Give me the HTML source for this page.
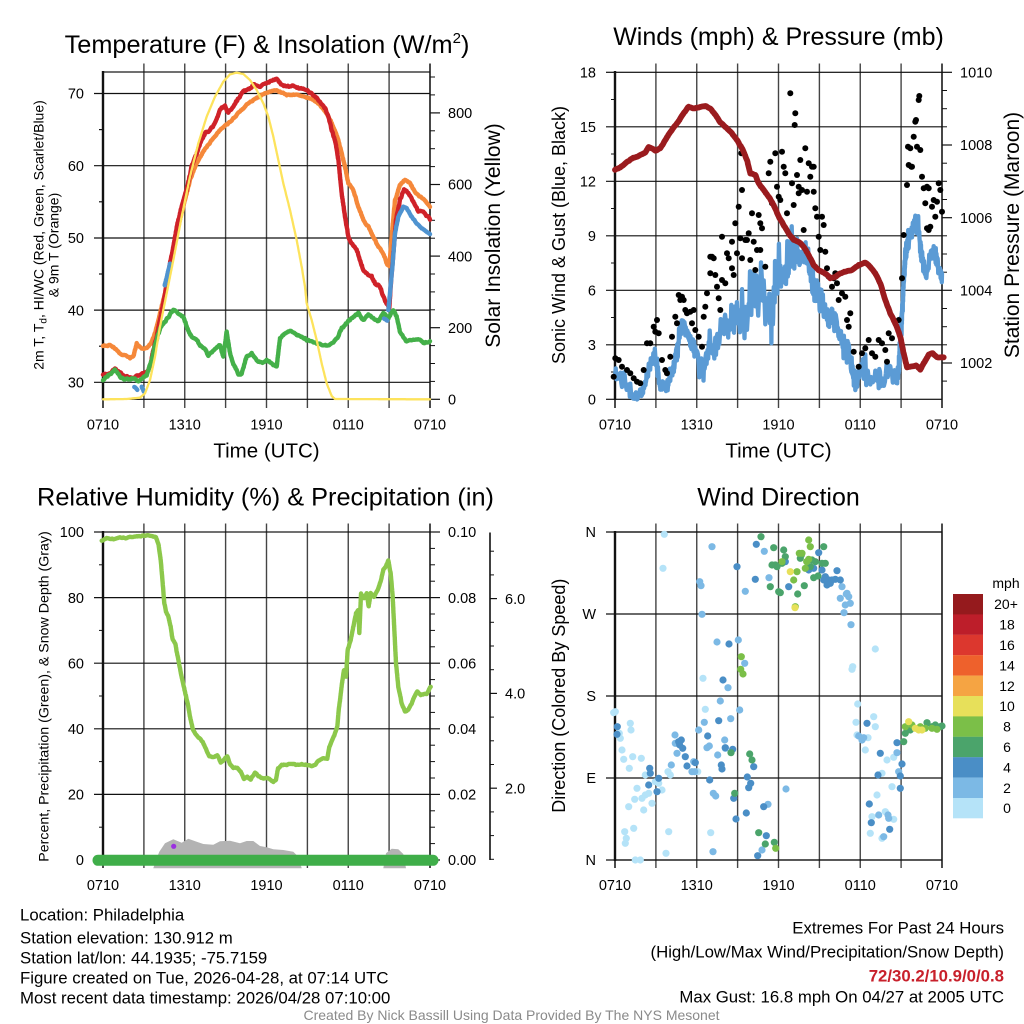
<!DOCTYPE html>
<html><head><meta charset="utf-8"><style>html,body{margin:0;padding:0;background:#fff;overflow:hidden}svg{display:block}</style></head>
<body>
<svg id="s" width="1024" height="1024" viewBox="0 0 1024 1024" xmlns="http://www.w3.org/2000/svg" font-family="'Liberation Sans', Arial, sans-serif">
<rect width="1024" height="1024" fill="#fff"/>
<defs>
<g id="vg" stroke="#444" stroke-width="1.4">
<line x1="143.9" y1="63.5" x2="143.9" y2="408"/><line x1="184.75" y1="63.5" x2="184.75" y2="408"/>
<line x1="225.6" y1="63.5" x2="225.6" y2="408"/><line x1="266.5" y1="63.5" x2="266.5" y2="408"/>
<line x1="307.4" y1="63.5" x2="307.4" y2="408"/><line x1="348.25" y1="63.5" x2="348.25" y2="408"/>
<line x1="389.1" y1="63.5" x2="389.1" y2="408"/>
<line x1="430" y1="63.5" x2="430" y2="408" stroke="#000"/>
<line x1="103" y1="399" x2="103" y2="408" stroke="#000"/>
</g>
</defs>
<use href="#vg"/><use href="#vg" transform="translate(512,0)"/>
<use href="#vg" transform="translate(0,460)"/><use href="#vg" transform="translate(512,460)"/>

<g stroke="#111" stroke-width="1.2">
<line x1="94" y1="93.5" x2="430" y2="93.5"/><line x1="94" y1="165.7" x2="430" y2="165.7"/>
<line x1="94" y1="238" x2="430" y2="238"/><line x1="94" y1="310.1" x2="430" y2="310.1"/>
<line x1="94" y1="382.3" x2="430" y2="382.3"/>
<line x1="99" y1="129.6" x2="103" y2="129.6"/><line x1="99" y1="201.8" x2="103" y2="201.8"/>
<line x1="99" y1="274" x2="103" y2="274"/><line x1="99" y1="346.2" x2="103" y2="346.2"/>
<line x1="430" y1="112.9" x2="440" y2="112.9"/><line x1="430" y1="184.5" x2="440" y2="184.5"/>
<line x1="430" y1="256.1" x2="440" y2="256.1"/><line x1="430" y1="327.7" x2="440" y2="327.7"/>
<line x1="430" y1="399.3" x2="440" y2="399.3"/>
<g stroke-width="1"><line x1="430" y1="381.4" x2="435" y2="381.4"/><line x1="430" y1="363.5" x2="435" y2="363.5"/><line x1="430" y1="345.6" x2="435" y2="345.6"/><line x1="430" y1="309.8" x2="435" y2="309.8"/><line x1="430" y1="291.9" x2="435" y2="291.9"/><line x1="430" y1="274" x2="435" y2="274"/><line x1="430" y1="238.2" x2="435" y2="238.2"/><line x1="430" y1="220.3" x2="435" y2="220.3"/><line x1="430" y1="202.4" x2="435" y2="202.4"/><line x1="430" y1="166.6" x2="435" y2="166.6"/><line x1="430" y1="148.7" x2="435" y2="148.7"/><line x1="430" y1="130.8" x2="435" y2="130.8"/><line x1="430" y1="94.9" x2="435" y2="94.9"/><line x1="430" y1="77" x2="435" y2="77"/></g>
<rect x="103" y="72" width="327" height="327.3" fill="none"/>
<line x1="103" y1="71" x2="103" y2="400" stroke-width="2.4"/>
</g>

<g stroke="#111" stroke-width="1.2">
<line x1="606" y1="72.3" x2="615" y2="72.3"/>
<line x1="606" y1="126.8" x2="942" y2="126.8"/><line x1="606" y1="181.3" x2="942" y2="181.3"/>
<line x1="606" y1="235.8" x2="942" y2="235.8"/><line x1="606" y1="290.3" x2="942" y2="290.3"/>
<line x1="606" y1="344.8" x2="942" y2="344.8"/><line x1="606" y1="399.3" x2="615" y2="399.3"/>
<g stroke-width="1"><line x1="611" y1="99.5" x2="615" y2="99.5"/><line x1="611" y1="154" x2="615" y2="154"/><line x1="611" y1="208.5" x2="615" y2="208.5"/><line x1="611" y1="263" x2="615" y2="263"/><line x1="611" y1="317.5" x2="615" y2="317.5"/><line x1="611" y1="372" x2="615" y2="372"/></g>
<line x1="942" y1="72.3" x2="952" y2="72.3"/><line x1="942" y1="145" x2="952" y2="145"/>
<line x1="942" y1="217.7" x2="952" y2="217.7"/><line x1="942" y1="290.3" x2="952" y2="290.3"/>
<line x1="942" y1="363" x2="952" y2="363"/>
<g stroke-width="1"><line x1="942" y1="381.1" x2="947" y2="381.1"/><line x1="942" y1="344.8" x2="947" y2="344.8"/><line x1="942" y1="326.7" x2="947" y2="326.7"/><line x1="942" y1="308.5" x2="947" y2="308.5"/><line x1="942" y1="272.2" x2="947" y2="272.2"/><line x1="942" y1="254" x2="947" y2="254"/><line x1="942" y1="235.8" x2="947" y2="235.8"/><line x1="942" y1="199.5" x2="947" y2="199.5"/><line x1="942" y1="181.3" x2="947" y2="181.3"/><line x1="942" y1="163.2" x2="947" y2="163.2"/><line x1="942" y1="126.8" x2="947" y2="126.8"/><line x1="942" y1="108.7" x2="947" y2="108.7"/><line x1="942" y1="90.5" x2="947" y2="90.5"/></g>
<rect x="615" y="72.3" width="327" height="327" fill="none"/>
<line x1="615" y1="71" x2="615" y2="400" stroke-width="2.4"/>
</g>

<g stroke="#111" stroke-width="1.2">
<line x1="94" y1="532" x2="103" y2="532"/>
<line x1="94" y1="597.6" x2="430" y2="597.6"/><line x1="94" y1="663.2" x2="430" y2="663.2"/>
<line x1="94" y1="728.8" x2="430" y2="728.8"/><line x1="94" y1="794.4" x2="430" y2="794.4"/>
<line x1="94" y1="860" x2="103" y2="860"/>
<g stroke-width="1"><line x1="99" y1="564.8" x2="103" y2="564.8"/><line x1="99" y1="630.4" x2="103" y2="630.4"/><line x1="99" y1="696" x2="103" y2="696"/><line x1="99" y1="761.6" x2="103" y2="761.6"/><line x1="99" y1="827.2" x2="103" y2="827.2"/></g>
<line x1="430" y1="532" x2="440" y2="532"/><line x1="430" y1="597.6" x2="440" y2="597.6"/>
<line x1="430" y1="663.2" x2="440" y2="663.2"/><line x1="430" y1="728.8" x2="440" y2="728.8"/>
<line x1="430" y1="794.4" x2="440" y2="794.4"/><line x1="430" y1="860" x2="440" y2="860"/>
<g stroke-width="1"><line x1="430" y1="548.4" x2="435" y2="548.4"/><line x1="430" y1="564.8" x2="435" y2="564.8"/><line x1="430" y1="581.2" x2="435" y2="581.2"/><line x1="430" y1="614" x2="435" y2="614"/><line x1="430" y1="630.4" x2="435" y2="630.4"/><line x1="430" y1="646.8" x2="435" y2="646.8"/><line x1="430" y1="679.6" x2="435" y2="679.6"/><line x1="430" y1="696" x2="435" y2="696"/><line x1="430" y1="712.4" x2="435" y2="712.4"/><line x1="430" y1="745.2" x2="435" y2="745.2"/><line x1="430" y1="761.6" x2="435" y2="761.6"/><line x1="430" y1="778" x2="435" y2="778"/><line x1="430" y1="810.8" x2="435" y2="810.8"/><line x1="430" y1="827.2" x2="435" y2="827.2"/><line x1="430" y1="843.6" x2="435" y2="843.6"/></g>
<rect x="103" y="532" width="327" height="328" fill="none"/>
<line x1="103" y1="531" x2="103" y2="861" stroke-width="2.4"/>
<line x1="490" y1="532.5" x2="490" y2="860" stroke-width="1.6"/>
<line x1="490" y1="598.6" x2="497" y2="598.6"/><line x1="490" y1="693.4" x2="497" y2="693.4"/><line x1="490" y1="788.2" x2="497" y2="788.2"/>
<g stroke-width="1"><line x1="490" y1="551.2" x2="494" y2="551.2"/><line x1="490" y1="574.9" x2="494" y2="574.9"/><line x1="490" y1="622.3" x2="494" y2="622.3"/><line x1="490" y1="646" x2="494" y2="646"/><line x1="490" y1="669.7" x2="494" y2="669.7"/><line x1="490" y1="717.1" x2="494" y2="717.1"/><line x1="490" y1="740.8" x2="494" y2="740.8"/><line x1="490" y1="764.5" x2="494" y2="764.5"/><line x1="490" y1="811.9" x2="494" y2="811.9"/><line x1="490" y1="835.6" x2="494" y2="835.6"/><line x1="490" y1="859.3" x2="494" y2="859.3"/></g>
</g>

<g stroke="#111" stroke-width="1.2">
<line x1="606" y1="532" x2="942" y2="532"/>
<line x1="606" y1="614" x2="942" y2="614"/><line x1="606" y1="696" x2="942" y2="696"/>
<line x1="606" y1="778" x2="942" y2="778"/><line x1="606" y1="860" x2="942" y2="860"/>
<rect x="615" y="532" width="327" height="328" fill="none"/>
<line x1="615" y1="531" x2="615" y2="861" stroke-width="2.4"/>
</g>

<g id="tl"></g><g id="tr"></g><g id="bl"></g><g id="br"></g>

<g fill="#000">
<text x="267" y="53" font-size="25.3" text-anchor="middle">Temperature (F) &amp; Insolation (W/m<tspan font-size="15" dy="-10">2</tspan><tspan dy="10">)</tspan></text>
<text x="778.5" y="45" font-size="25" text-anchor="middle">Winds (mph) &amp; Pressure (mb)</text>
<text x="265.5" y="505.5" font-size="25.3" text-anchor="middle">Relative Humidity (%) &amp; Precipitation (in)</text>
<text x="778.5" y="505.5" font-size="25" text-anchor="middle">Wind Direction</text>

<g font-size="14.5" text-anchor="middle">
<text x="103" y="429.5">0710</text><text x="184.75" y="429.5">1310</text><text x="266.5" y="429.5">1910</text><text x="348.25" y="429.5">0110</text><text x="430" y="429.5">0710</text>
<text x="615" y="429.5">0710</text><text x="696.75" y="429.5">1310</text><text x="778.5" y="429.5">1910</text><text x="860.25" y="429.5">0110</text><text x="942" y="429.5">0710</text>
<text x="103" y="890">0710</text><text x="184.75" y="890">1310</text><text x="266.5" y="890">1910</text><text x="348.25" y="890">0110</text><text x="430" y="890">0710</text>
<text x="615" y="890">0710</text><text x="696.75" y="890">1310</text><text x="778.5" y="890">1910</text><text x="860.25" y="890">0110</text><text x="942" y="890">0710</text>
</g>
<g font-size="14.5" text-anchor="end">
<text x="84" y="98.7">70</text><text x="84" y="170.9">60</text><text x="84" y="243.2">50</text><text x="84" y="315.3">40</text><text x="84" y="387.5">30</text>
<text x="596" y="77.5">18</text><text x="596" y="132">15</text><text x="596" y="186.5">12</text><text x="596" y="241">9</text><text x="596" y="295.5">6</text><text x="596" y="350">3</text><text x="596" y="404.5">0</text>
<text x="84" y="537.2">100</text><text x="84" y="602.8">80</text><text x="84" y="668.4">60</text><text x="84" y="734">40</text><text x="84" y="799.6">20</text><text x="84" y="865.2">0</text>
<text x="596" y="537.2">N</text><text x="596" y="619.2">W</text><text x="596" y="701.2">S</text><text x="596" y="783.2">E</text><text x="596" y="865.2">N</text>
</g>
<g font-size="14.5">
<text x="448" y="118.1">800</text><text x="448" y="189.7">600</text><text x="448" y="261.3">400</text><text x="448" y="332.9">200</text><text x="448" y="404.5">0</text>
<text x="960" y="77.5">1010</text><text x="960" y="150.2">1008</text><text x="960" y="222.9">1006</text><text x="960" y="295.5">1004</text><text x="960" y="368.2">1002</text>
<text x="448" y="537.2">0.10</text><text x="448" y="602.8">0.08</text><text x="448" y="668.4">0.06</text><text x="448" y="734">0.04</text><text x="448" y="799.6">0.02</text><text x="448" y="865.2">0.00</text>
<text x="505" y="603.8">6.0</text><text x="505" y="698.6">4.0</text><text x="505" y="793.4">2.0</text>
</g>
<text x="266.5" y="457.7" font-size="20.5" text-anchor="middle">Time (UTC)</text>
<text x="778.5" y="457.7" font-size="20.5" text-anchor="middle">Time (UTC)</text>

<text transform="translate(43.5,235) rotate(-90)" font-size="14" text-anchor="middle">2m T, T<tspan font-size="10" dy="3">d</tspan><tspan dy="-3">, HI/WC (Red, Green, Scarlet/Blue)</tspan></text>
<text transform="translate(58.5,245) rotate(-90)" font-size="14" text-anchor="middle">&amp; 9m T (Orange)</text>
<text transform="translate(500,235.5) rotate(-90)" font-size="21" text-anchor="middle">Solar Insolation (Yellow)</text>
<text transform="translate(565,235) rotate(-90)" font-size="18" text-anchor="middle">Sonic Wind &amp; Gust (Blue, Black)</text>
<text transform="translate(1019,235) rotate(-90)" font-size="21" text-anchor="middle">Station Pressure (Maroon)</text>
<text transform="translate(48.7,696.5) rotate(-90)" font-size="14.2" text-anchor="middle">Percent, Precipitation (Green), &amp; Snow Depth (Gray)</text>
<text transform="translate(565,695.7) rotate(-90)" font-size="18" text-anchor="middle">Direction (Colored By Speed)</text>
</g>

<g>
<rect x="953" y="594" width="30" height="20.5" fill="#951a1d"/>
<rect x="953" y="614.4" width="30" height="20.5" fill="#bd1e2a"/>
<rect x="953" y="634.8" width="30" height="20.5" fill="#dc372e"/>
<rect x="953" y="655.2" width="30" height="20.5" fill="#ee612c"/>
<rect x="953" y="675.6" width="30" height="20.5" fill="#f5a443"/>
<rect x="953" y="696" width="30" height="20.5" fill="#e7e05a"/>
<rect x="953" y="716.4" width="30" height="20.5" fill="#7bbf48"/>
<rect x="953" y="736.8" width="30" height="20.5" fill="#4ba46b"/>
<rect x="953" y="757.2" width="30" height="20.5" fill="#4a8ec6"/>
<rect x="953" y="777.6" width="30" height="20.5" fill="#7cb9e5"/>
<rect x="953" y="798" width="30" height="20.3" fill="#b5e3f8"/>
</g>
<g font-size="14" text-anchor="middle" fill="#000">
<text x="1006" y="588">mph</text>
<text x="1006" y="609.2">20+</text><text x="1007" y="629.6">18</text><text x="1007" y="650">16</text><text x="1007" y="670.4">14</text><text x="1007" y="690.8">12</text><text x="1007" y="711.2">10</text><text x="1007" y="731.6">8</text><text x="1007" y="752">6</text><text x="1007" y="772.4">4</text><text x="1007" y="792.8">2</text><text x="1007" y="813.2">0</text>
</g>

<g font-size="16.8" fill="#000">
<text x="20" y="920.7">Location: Philadelphia</text>
<text x="20" y="943.3">Station elevation: 130.912 m</text>
<text x="20" y="963.3">Station lat/lon: 44.1935; -75.7159</text>
<text x="20" y="983.3">Figure created on Tue, 2026-04-28, at 07:14 UTC</text>
<text x="20" y="1003.3">Most recent data timestamp: 2026/04/28 07:10:00</text>
</g>
<g font-size="16.8" fill="#000" text-anchor="end">
<text x="1004" y="933.3">Extremes For Past 24 Hours</text>
<text x="1004" y="957.3">(High/Low/Max Wind/Precipitation/Snow Depth)</text>
<text x="1004" y="981.7" fill="#c8202b" font-weight="bold">72/30.2/10.9/0/0.8</text>
<text x="1004" y="1002.7">Max Gust: 16.8 mph On 04/27 at 2005 UTC</text>
</g>
<text x="511.5" y="1020" font-size="14" fill="#8a8a8a" text-anchor="middle">Created By Nick Bassill Using Data Provided By The NYS Mesonet</text>
</svg>

<script>
(function(){
const NS='http://www.w3.org/2000/svg';
function el(p,t,a){const e=document.createElementNS(NS,t);for(const k in a)e.setAttribute(k,a[k]);p.appendChild(e);return e;}
let seed=12345;function rnd(){seed=(seed*1664525+1013904223)>>>0;return seed/4294967296;}
function conv(a,ox,oy){return a.map(p=>{const q=p.slice();q[0]=ox+p[0]/3;q[1]=oy+p[1]/3;return q;});}
function dense(a,step){const o=[];for(let i=0;i<a.length-1;i++){const A=a[i],B=a[i+1];const n=Math.max(1,Math.ceil(Math.hypot(B[0]-A[0],B[1]-A[1])/step));for(let k=0;k<n;k++){const t=k/n;o.push(A.map((v,j)=>v+(B[j]-v)*t));}}o.push(a[a.length-1].slice());return o;}
function jit(p,amp){let v=0;return p.map(q=>{v=0.5*v+0.5*(rnd()*2-1)*amp;return [q[0],q[1]+v];});}
function D(p){return 'M'+p.map(q=>q[0].toFixed(1)+' '+q[1].toFixed(1)).join('L');}
function line(g,a,ox,oy,c,w,amp){let p=dense(conv(a,ox,oy),1.2);if(amp)p=jit(p,amp);el(g,'path',{d:D(p),fill:'none',stroke:c,'stroke-width':w,'stroke-linejoin':'round','stroke-linecap':'round'});}
const TL=document.getElementById('tl'),TR=document.getElementById('tr'),BL=document.getElementById('bl'),BR=document.getElementById('br');

const orange=[[309,980],[330,975],[345,985],[360,1000],[375,1005],[390,1015],[400,1010],[410,970],[425,985],[440,985],[455,965],[465,940],[480,880],[495,820],[510,740],[525,660],[540,600],[555,540],[570,480],[585,440],[600,410],[620,380],[640,355],[660,330],[680,315],[700,295],[720,275],[740,255],[760,240],[780,228],[800,218],[820,210],[840,215],[860,225],[880,222],[900,225],[920,232],[940,240],[960,255],[980,280],[1000,320],[1015,360],[1025,400],[1035,440],[1045,490],[1060,510],[1075,560],[1090,600],[1105,620],[1120,650],[1135,680],[1150,700],[1160,730],[1168,740],[1175,650],[1185,540],[1200,495],[1215,478],[1230,490],[1245,515],[1260,530],[1275,540],[1290,560]];
const red=[[309,1065],[330,1062],[345,1045],[360,1058],[375,1070],[400,1075],[420,1062],[440,1055],[450,1040],[460,990],[470,950],[480,900],[490,850],[500,790],[510,730],[520,680],[530,620],[545,560],[560,510],[575,440],[590,400],[600,370],[615,340],[630,330],[645,310],[660,270],[675,255],[685,280],[700,260],[715,235],[730,215],[745,210],[760,195],[775,200],[790,195],[810,185],[830,178],[845,195],[860,200],[880,198],[900,205],[920,212],[940,225],[960,245],[975,265],[985,290],[995,330],[1005,360],[1015,420],[1025,520],[1035,590],[1045,650],[1055,670],[1070,690],[1080,720],[1090,750],[1100,760],[1115,770],[1125,790],[1140,800],[1150,830],[1160,850],[1168,865],[1172,800],[1180,700],[1188,600],[1200,540],[1212,510],[1225,520],[1240,545],[1255,575],[1270,575],[1290,598]];
const green=[[309,1080],[325,1065],[345,1050],[360,1070],[375,1080],[395,1075],[415,1082],[440,1065],[455,1020],[465,975],[480,925],[495,905],[505,890],[520,870],[535,880],[550,890],[560,920],[575,950],[590,960],[600,975],[615,985],[625,1010],[640,990],[660,975],[670,1010],[680,935],[690,1000],[700,1030],[715,1060],[725,1060],[740,1010],[755,1000],[770,1020],[785,1030],[800,1020],[815,1030],[830,1040],[840,955],[855,940],[870,935],[885,940],[900,950],[915,955],[930,965],[950,970],[970,975],[985,978],[1000,968],[1015,950],[1025,925],[1040,910],[1060,890],[1075,880],[1090,900],[1105,885],[1120,895],[1135,905],[1150,880],[1165,895],[1180,870],[1190,890],[1200,935],[1220,965],[1240,960],[1255,958],[1270,968],[1290,965]];
const blues=[[[403,1100],[412,1108]],[[425,1100],[432,1115]],[[494,795],[503,760],[510,730]],[[1152,895],[1162,902]],[[1165,870],[1170,820],[1178,730],[1185,640],[1195,590],[1210,560],[1220,565],[1235,590],[1250,610],[1265,625],[1290,642]]];
const yellow=[[309,1138],[380,1137],[420,1133],[435,1120],[450,1080],[465,1010],[480,920],[500,820],[520,720],[545,590],[570,470],[595,370],[620,290],[645,230],[670,185],[690,163],[710,158],[730,162],[750,180],[770,210],[790,250],[805,290],[820,350],[835,420],[850,490],[870,570],[890,660],[905,740],[915,800],[920,850],[935,900],[950,960],[965,1030],[980,1090],[995,1128],[1005,1137],[1290,1138]];
line(TL,orange,0,20,'#f5883a',4.4,1.3);
line(TL,red,0,20,'#cf2229',4.4,1.6);
line(TL,green,0,20,'#44b049',4.4,1.5);
blues.forEach(b=>line(TL,b,0,20,'#4f93d0',4.4,0.8));
line(TL,yellow,0,20,'#fde35c',2.3,0);

const wb=[[309,1060,40],[330,1080,40],[350,1100,30],[375,1135,10],[390,1120,20],[410,1050,30],[430,1020,30],[445,1080,30],[465,1110,20],[480,1050,30],[500,960,40],[515,920,30],[530,950,30],[550,1010,40],[570,1030,40],[590,1000,50],[610,970,50],[630,950,60],[650,920,70],[670,900,80],[690,870,80],[710,880,80],[730,860,80],[750,860,90],[770,850,90],[790,790,80],[810,760,80],[830,720,70],[850,690,70],[870,700,60],[890,730,60],[910,790,60],[930,850,50],[950,890,50],[970,920,40],[990,950,40],[1010,1000,40],[1030,1060,50],[1050,1060,50],[1070,1070,40],[1090,1080,40],[1110,1060,40],[1130,1060,40],[1150,1070,40],[1160,1040,40],[1170,900,40],[1180,720,40],[1195,640,40],[1210,610,40],[1225,680,40],[1240,740,40],[1255,720,40],[1270,700,40],[1290,780,30]];
let wp=dense(conv(wb,512,20),1.0).map(q=>{const a=q[2]/3;const lf=0.6*Math.sin(q[0]*0.45)+0.4*Math.sin(q[0]*0.17+1.3);const r=rnd();const spike=r<0.12?(rnd()*2-1)*1.3:(rnd()*2-1)*0.6;let y=q[1]+a*(0.55*lf+spike);if(y>399.5)y=399.5;return [q[0],y];});
el(TR,'path',{d:D(wp),fill:'none',stroke:'#5b9bd5','stroke-width':4.3,'stroke-linejoin':'round','stroke-linecap':'round'});
const gust=[[305,1070],[310,1015],[320,1020],[330,1040],[345,1050],[355,1060],[365,1075],[375,1085],[385,1090],[395,1050],[405,970],[415,970],[425,920],[430,935],[440,940],[435,900],[450,1020],[460,1050],[465,1060],[475,1010],[480,950],[490,890],[495,910],[500,825],[510,830],[515,840],[520,870],[525,880],[535,875],[545,870],[540,910],[550,930],[560,950],[570,980],[575,890],[580,860],[585,820],[595,760],[600,710],[605,715],[610,765],[615,800],[620,835],[630,780],[640,790],[625,870],[630,650],[645,700],[650,715],[660,745],[665,765],[660,665],[670,610],[675,700],[685,655],[690,715],[680,560],[688,400],[690,510],[705,660],[710,640],[715,720],[720,580],[725,665],[730,750],[735,690],[740,585],[745,690],[750,625],[760,740],[770,460],[780,550],[775,425],[790,400],[795,500],[800,530],[805,540],[810,395],[815,440],[820,460],[825,580],[835,220],[840,490],[845,555],[850,280],[848,315],[855,465],[860,520],[865,420],[870,510],[875,630],[880,385],[885,515],[890,430],[895,470],[900,440],[905,515],[910,565],[915,590],[920,650],[925,690],[930,590],[935,615],[940,695],[945,745],[950,770],[960,800],[965,775],[970,760],[980,840],[990,820],[1000,830],[1005,900],[1010,920],[1015,880],[1025,995],[1040,1040],[1050,1000],[1060,985],[1070,960],[1080,1000],[1090,1010],[1100,960],[1110,970],[1120,990],[1125,1025],[1130,940],[1140,955],[1150,910],[1160,900],[1170,775],[1175,645],[1185,495],[1190,435],[1195,385],[1200,440],[1205,350],[1210,305],[1215,380],[1220,240],[1225,390],[1230,470],[1235,505],[1240,550],[1245,625],[1250,505],[1255,620],[1260,560],[1265,540],[1270,590],[1275,545],[1280,490],[1285,510],[1290,575],[1222,228],[1198,440],[1250,630],[1212,300],[1188,380],[1245,500],[505,840],[595,710],[700,660],[745,610],[860,500],[905,440],[975,790]];
conv(gust,512,20).forEach(p=>el(TR,'circle',{cx:p[0].toFixed(1),cy:p[1].toFixed(1),r:3.0,fill:'#000'}));
const maroon=[[309,450],[325,443],[345,425],[360,415],[380,408],[400,398],[410,380],[420,385],[430,392],[445,385],[460,360],[475,335],[495,310],[515,280],[530,260],[545,265],[560,262],[580,258],[595,265],[610,285],[625,308],[645,325],[660,340],[675,360],[690,385],[705,420],[715,460],[730,465],[740,490],[755,510],[770,530],[785,555],[800,590],[815,615],[830,640],[845,660],[860,665],[875,680],[890,705],[905,735],[920,750],[940,760],[955,775],[970,770],[985,760],[1000,755],[1020,750],[1040,735],[1060,728],[1075,740],[1090,760],[1105,790],[1120,840],[1135,880],[1150,910],[1165,950],[1175,1000],[1185,1042],[1200,1040],[1212,1035],[1225,1050],[1235,1030],[1250,1005],[1262,1000],[1275,1012],[1295,1012]];
line(TR,maroon,512,20,'#9a1b1e',5.8,0.6);

const snow=[[460,1195],[468,1170],[478,1145],[495,1120],[520,1108],[545,1118],[565,1106],[590,1115],[610,1122],[640,1124],[660,1114],[690,1112],[720,1120],[740,1113],[760,1113],[780,1128],[800,1132],[820,1138],[850,1140],[880,1145],[895,1160],[905,1195]];
el(BL,'path',{d:D(conv(snow,0,470))+'Z',fill:'#b3b3b3'});
const snow2=[[1150,1195],[1158,1150],[1175,1136],[1195,1138],[1210,1152],[1218,1195]];
el(BL,'path',{d:D(conv(snow2,0,470))+'Z',fill:'#b3b3b3'});
const rh=[[305,212],[320,205],[340,207],[360,203],[380,204],[400,200],[420,198],[440,196],[458,197],[468,203],[476,225],[482,270],[488,340],[493,400],[498,425],[505,440],[512,470],[518,510],[526,520],[532,555],[540,595],[548,635],[556,670],[563,700],[570,740],[578,775],[588,795],[598,805],[608,815],[618,838],[628,858],[640,860],[652,855],[662,878],[672,870],[682,858],[690,882],[700,895],[712,893],[722,905],[732,928],[742,920],[752,928],[765,908],[775,918],[790,925],[805,925],[820,935],[828,928],[834,895],[845,885],[860,884],[875,880],[890,885],[905,883],[920,885],[935,888],[945,885],[955,872],[970,865],[982,865],[988,830],[995,815],[1005,790],[1012,770],[1016,720],[1020,690],[1026,640],[1032,600],[1038,620],[1043,540],[1052,510],[1060,470],[1068,430],[1075,420],[1078,490],[1083,370],[1092,385],[1100,370],[1106,410],[1112,370],[1122,380],[1132,360],[1142,335],[1150,300],[1158,290],[1165,272],[1172,310],[1178,380],[1183,480],[1188,580],[1195,650],[1205,700],[1215,725],[1225,718],[1235,700],[1245,675],[1252,665],[1262,675],[1280,672],[1292,650]];
line(BL,rh,0,470,'#8cc84b',4.4,0.9);
el(BL,'line',{x1:98,y1:860.3,x2:433,y2:860.3,stroke:'#3fae49','stroke-width':11,'stroke-linecap':'round'});
el(BL,'circle',{cx:173.7,cy:846.3,r:2.6,fill:'#9b30e0'});

const cols=['#b5e3f8','#7cb9e5','#4a8ec6','#4ba46b','#7bbf48','#e7e05a'];
const dots=[
[[457,193],[453,295],[310,725],[355,760],[357,780],[325,805],[330,840],[335,868],[362,860],[388,865],[352,895],[400,915],[430,935],[450,960],[375,955],[368,988],[350,1010],[395,1020],[400,975],[390,985],[410,970],[338,1085],[365,1075],[343,1105],[340,1120],[370,1170],[385,1170],[462,1150],[470,1085],[468,905],[475,915],[557,905],[573,625],[580,718],[596,1088],[1090,537],[1022,590],[1020,598],[1037,702],[1032,757],[1085,740],[1090,770],[1035,795],[1068,803],[1060,840],[1125,870],[1145,862],[1110,910],[1140,950],[1095,975],[1080,1040],[1120,1025],[1145,1048],[1075,1090],[1110,1105],[305,728],[322,790],[420,1000],[440,940]],
[[600,230],[757,244],[771,323],[700,364],[563,335],[567,347],[570,433],[615,516],[679,510],[698,580],[648,653],[625,693],[683,720],[656,746],[577,757],[560,780],[489,795],[585,833],[592,828],[617,855],[638,810],[640,835],[545,875],[540,905],[478,885],[495,850],[604,970],[611,978],[603,1145],[750,1140],[768,1003],[822,957],[548,905],[490,820],[990,350],[1005,370],[1010,380],[985,385],[1000,405],[1015,400],[996,428],[1017,464],[1055,803],[1040,798],[1050,810],[1155,848],[1160,905],[1100,1035],[1128,1035],[1130,1045],[1115,1100],[1003,372]],
[[316,770],[315,793],[413,895],[415,910],[440,925],[410,945],[435,965],[508,810],[503,825],[500,815],[512,835],[520,860],[525,888],[550,878],[587,798],[620,752],[640,833],[662,838],[628,885],[630,897],[593,930],[633,630],[651,522],[675,290],[730,328],[733,223],[820,275],[830,350],[920,248],[940,320],[950,330],[960,330],[975,302],[945,345],[985,330],[905,295],[890,300],[706,921],[716,940],[710,953],[725,890],[665,985],[672,1047],[703,1029],[755,1010],[763,1097],[737,1157],[1065,760],[1105,850],[1155,818],[1170,882],[1165,955],[1072,1002],[1078,1058],[1133,1078],[1165,918],[1098,915],[935,330],[955,340],[970,328],[930,300]],
[[747,200],[785,233],[815,240],[820,260],[810,280],[780,285],[795,290],[775,350],[800,365],[805,368],[857,372],[877,347],[905,323],[918,318],[930,280],[935,230],[910,275],[865,265],[868,255],[900,270],[895,290],[657,848],[713,852],[720,870],[668,970],[740,1088],[760,1122],[787,1117],[1175,815],[1180,790],[1195,780],[1245,758],[1260,770],[1285,770],[1290,768],[1270,765],[940,280],[790,285]],
[[688,560],[686,598],[693,612],[890,210],[895,230],[862,250],[845,330],[880,295],[884,275],[855,305],[810,275],[850,410],[791,1135],[1180,770],[1200,765],[1225,770],[1240,775],[1260,775],[1275,778],[890,268],[870,250]],
[[835,305],[849,413],[1190,755],[1210,775],[1220,780],[1230,780]]
];
dots.forEach((arr,i)=>conv(arr,512,470).forEach(p=>el(BR,'circle',{cx:p[0].toFixed(1),cy:p[1].toFixed(1),r:3.6,fill:cols[i]})));
})();
</script>
</body></html>
